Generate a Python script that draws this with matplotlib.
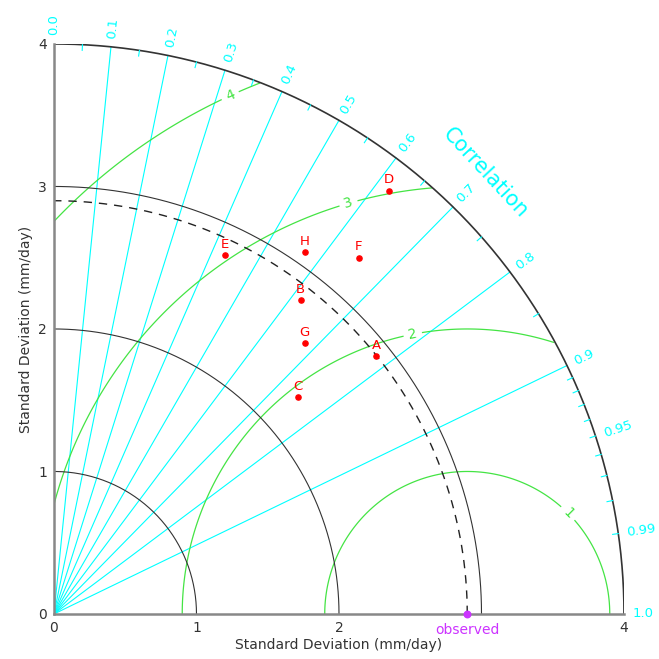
import numpy as np
import matplotlib.pyplot as plt

# model points (std dev along x / y in mm/day)
names = ["A", "B", "C", "D", "E", "F", "G", "H"]
pt_x = [2.26, 1.73, 1.71, 2.35, 1.20, 2.14, 1.76, 1.76]
pt_y = [1.81, 2.20, 1.52, 2.97, 2.52, 2.50, 1.90, 2.54]

ref_std = 2.9
max_std = 4.0
std_arcs = [1, 2, 3, 4]
x_ticks = [0, 1, 2, 4]
y_ticks = [0, 1, 2, 3, 4]
corr_lines = [0.1, 0.2, 0.3, 0.4, 0.5, 0.6, 0.7, 0.8, 0.9]
corr_labels = [0.0, 0.1, 0.2, 0.3, 0.4, 0.5, 0.6, 0.7, 0.8, 0.9, 0.95, 0.99, 1.0]
corr_minor = [0.05, 0.15, 0.25, 0.35, 0.45, 0.55, 0.65, 0.75, 0.85,
              0.91, 0.92, 0.93, 0.94, 0.95, 0.96, 0.97, 0.98, 0.99]
rms_levels = [1, 2, 3, 4]
rms_label_pos = [(3.65, 0.75), (2.52, 1.95), (2.07, 2.87), (1.24, 3.63)]

cyan = "#00ffff"
green = "#44e444"

fig = plt.figure(figsize=(6.59, 6.59), dpi=100)
ax = fig.add_axes([0.0804, 0.0683, 0.868, 0.865])
ax.set_xlim(0, max_std)
ax.set_ylim(0, max_std)
ax.set_aspect("equal")

t = np.linspace(0, np.pi / 2, 300)

# correlation rays
for r in corr_lines:
    th = np.arccos(r)
    ax.plot([0, max_std * np.cos(th)], [0, max_std * np.sin(th)], color=cyan, lw=0.8, zorder=1)

# std arcs
for s in std_arcs:
    ax.plot(s * np.cos(t), s * np.sin(t), color="#333333", lw=0.8 if s < 4 else 1.2, zorder=2)

# reference arc
ax.plot(ref_std * np.cos(t), ref_std * np.sin(t), color="#222222", lw=1.0, ls=(0, (6, 5)), zorder=2)

# rms contours
gx, gy = np.meshgrid(np.linspace(0, max_std, 400), np.linspace(0, max_std, 400))
rms = np.hypot(gx - ref_std, gy)
rms = np.ma.masked_where(np.hypot(gx, gy) > max_std, rms)
cs = ax.contour(gx, gy, rms, levels=rms_levels, colors=green, linewidths=0.9, zorder=1)
ax.clabel(cs, fmt="%d", fontsize=10, manual=rms_label_pos, inline=True)

# correlation tick marks and labels
for r in corr_minor:
    th = np.arccos(r)
    ax.plot([3.96 * np.cos(th), max_std * np.cos(th)], [3.96 * np.sin(th), max_std * np.sin(th)],
            color=cyan, lw=0.8, zorder=2)
for r in corr_labels:
    th = np.arccos(r)
    ax.text(4.06 * np.cos(th), 4.06 * np.sin(th), f"{r:g}" if r not in (0.0, 1.0) else f"{r:.1f}",
            rotation=np.degrees(th), rotation_mode="anchor", ha="left", va="center",
            color=cyan, fontsize=9.5, clip_on=False)
ax.text(4.33 * np.cos(np.radians(45.6)), 4.33 * np.sin(np.radians(45.6)), "Correlation",
        rotation=-47, rotation_mode="anchor", ha="center", va="center",
        color=cyan, fontsize=15, clip_on=False)

# points
ax.scatter(pt_x, pt_y, s=14, color="red", zorder=5, clip_on=False)
for n, x, y in zip(names, pt_x, pt_y):
    ax.text(x, y + 0.03, n, color="red", fontsize=9.5, ha="center", va="bottom", zorder=5)

ax.scatter([ref_std], [0], s=22, color="#cc33ff", zorder=6, clip_on=False)
ax.text(ref_std, -0.06, "observed", color="#cc33ff", fontsize=10, ha="center", va="top")

for side in ["top", "right"]:
    ax.spines[side].set_visible(False)
for side in ["left", "bottom"]:
    ax.spines[side].set_color("#888888")
    ax.spines[side].set_linewidth(1.8)
ax.set_xticks(x_ticks)
ax.set_yticks(y_ticks)
ax.tick_params(labelsize=10, colors="#333333", length=0, pad=5)
ax.set_xlabel("Standard Deviation (mm/day)", fontsize=10, color="#333333", labelpad=2)
ax.set_ylabel("Standard Deviation (mm/day)", fontsize=10, color="#333333", labelpad=4)

fig.savefig("out.png", dpi=100)
